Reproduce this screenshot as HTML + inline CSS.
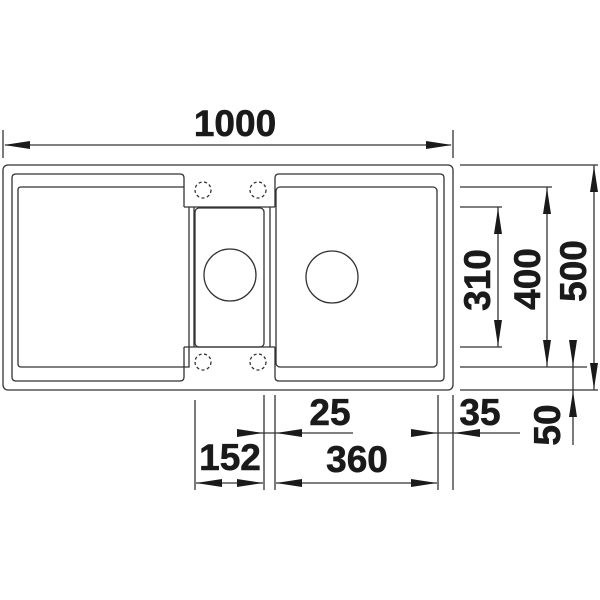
<!DOCTYPE html>
<html><head><style>html,body{margin:0;padding:0;background:#fff}svg{display:block}
text{font-family:"Liberation Sans",sans-serif;font-weight:bold;font-size:37px;fill:#1a1a1a;stroke:#1a1a1a;stroke-width:0.6px}</style></head>
<body>
<svg width="600" height="600" viewBox="0 0 600 600" xmlns="http://www.w3.org/2000/svg">
<g fill="none" stroke="#333" stroke-width="1.3">
<rect x="3" y="165" width="450" height="225" rx="5"/>
<path d="M184 207 V178 Q184 174 180 174 H16 Q12 174 12 178 V377 Q12 381 16 381 H180 Q184 381 184 377 V347"/>
<path d="M184 207 H275 M184 347 H275"/>
<path d="M189 207 V367 H21 Q18 367 18 364 V190 Q18 187 21 187 H184"/>
<line x1="194" y1="207" x2="194" y2="347"/>
<line x1="270" y1="207" x2="270" y2="347"/>
<rect x="195" y="208" width="69" height="139" rx="4"/>
<circle cx="230" cy="275" r="26"/>
<g stroke-dasharray="3,2.5"><circle cx="203" cy="190" r="8"/><circle cx="258" cy="190" r="8"/><circle cx="203" cy="362" r="8"/><circle cx="258" cy="362" r="8"/></g>
<path d="M275 207 V178 Q275 174 279 174 H440 Q444 174 444 178 V377 Q444 381 440 381 H279 Q275 381 275 377 V347"/>
<rect x="276" y="187" width="161" height="180" rx="4"/>
<circle cx="332" cy="277" r="26"/>
<line x1="3" y1="130" x2="3" y2="158"/><line x1="453" y1="130" x2="453" y2="158"/>
<line x1="5" y1="145" x2="451" y2="145"/>
<line x1="460" y1="165" x2="598" y2="165"/>
<line x1="460" y1="187" x2="552" y2="187"/>
<line x1="460" y1="207" x2="502" y2="207"/>
<line x1="460" y1="347" x2="502" y2="347"/>
<line x1="460" y1="367" x2="587" y2="367"/>
<line x1="460" y1="390" x2="598" y2="390"/>
<line x1="498" y1="207" x2="498" y2="347"/>
<line x1="547" y1="187" x2="547" y2="367"/>
<line x1="594" y1="165" x2="594" y2="390"/>
<line x1="573" y1="340" x2="573" y2="445"/>
<line x1="195" y1="400" x2="195" y2="490"/>
<line x1="264" y1="395" x2="264" y2="490"/>
<line x1="275" y1="395" x2="275" y2="490"/>
<line x1="438" y1="395" x2="438" y2="490"/>
<line x1="453" y1="395" x2="453" y2="490"/>
<line x1="196" y1="483" x2="263" y2="483"/>
<line x1="276" y1="483" x2="437" y2="483"/>
<line x1="237" y1="433" x2="353" y2="433"/>
<line x1="411" y1="433" x2="520" y2="433"/>
</g>
<g fill="#1a1a1a">
<path d="M4 145 L30 141 L30 149Z"/><path d="M452 145 L426 141 L426 149Z"/>
<path d="M498 208 L494 234 L502 234Z"/><path d="M498 346 L494 320 L502 320Z"/>
<path d="M547 188 L543 214 L551 214Z"/><path d="M547 366 L543 340 L551 340Z"/>
<path d="M594 166 L590 192 L598 192Z"/><path d="M594 389 L590 363 L598 363Z"/>
<path d="M573 366 L569 340 L577 340Z"/><path d="M573 391 L569 417 L577 417Z"/>
<path d="M196 483 L222 479 L222 487Z"/><path d="M263 483 L237 479 L237 487Z"/>
<path d="M276 483 L302 479 L302 487Z"/><path d="M437 483 L411 479 L411 487Z"/>
<path d="M263 433 L237 429 L237 437Z"/><path d="M276 433 L302 429 L302 437Z"/>
<path d="M437 433 L411 429 L411 437Z"/><path d="M454 433 L480 429 L480 437Z"/>
</g>
<text x="235" y="136" text-anchor="middle">1000</text>
<text x="330" y="425" text-anchor="middle">25</text>
<text x="480" y="425" text-anchor="middle">35</text>
<text x="230" y="470" text-anchor="middle">152</text>
<text x="357" y="472" text-anchor="middle">360</text>
<text transform="translate(490,280) rotate(-90)" text-anchor="middle">310</text>
<text transform="translate(540,279) rotate(-90)" text-anchor="middle">400</text>
<text transform="translate(586,271) rotate(-90)" text-anchor="middle">500</text>
<text transform="translate(560,425) rotate(-90)" text-anchor="middle">50</text>
</svg>
</body></html>
